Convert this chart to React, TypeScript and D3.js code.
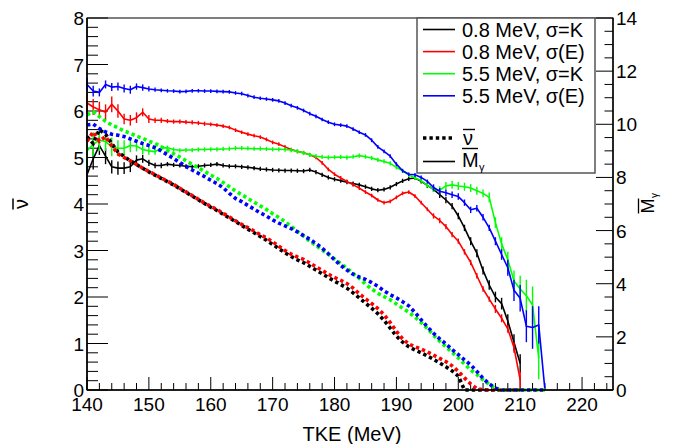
import React from "react";
import * as d3 from "d3";

// ---------- data ----------
const energies = d3.range(140, 215); // bin centres (MeV), 140..214

// Mean gamma multiplicity (right axis)
const blackM = [8.1, 8.7, 9.2, 8.8, 8.4, 8.35, 8.35, 8.4, 8.65, 8.7,
  8.55, 8.45, 8.45, 8.5, 8.47, 8.45, 8.42, 8.4, 8.42, 8.45,
  8.47, 8.5, 8.45, 8.42, 8.42, 8.4, 8.38, 8.35, 8.32, 8.3,
  8.28, 8.27, 8.26, 8.26, 8.25, 8.24, 8.28, 8.2, 8.1, 8.0,
  7.93, 7.88, 7.82, 7.77, 7.72, 7.65, 7.57, 7.52, 7.55, 7.63,
  7.75, 7.87, 7.95, 7.98, 7.85, 7.7, 7.55, 7.35, 7.15, 6.92,
  6.55, 6.1, 5.6, 5.15, 4.5, 3.95, 3.5, 3.25, 2.6, 1.8,
  1.0];
const redM = [10.8, 10.65, 10.55, 10.45, 10.75, 10.5, 10.2, 10.15, 10.25, 10.45,
  10.2, 10.15, 10.15, 10.12, 10.1, 10.1, 10.08, 10.07, 10.05, 10.02,
  10.0, 9.97, 9.93, 9.88, 9.78, 9.7, 9.63, 9.57, 9.52, 9.43,
  9.32, 9.25, 9.15, 9.05, 8.98, 8.93, 8.85, 8.75, 8.55, 8.3,
  8.12, 7.98, 7.85, 7.72, 7.6, 7.45, 7.32, 7.15, 7.05, 7.1,
  7.25, 7.4, 7.45, 7.3, 7.05, 6.8, 6.55, 6.38, 6.15, 5.85,
  5.6, 5.2, 4.8, 4.3, 3.8, 3.42, 3.05, 2.7, 2.3, 1.6,
  0.38];
const greenM = [9.0, 9.25, 9.4, 9.35, 9.15, 9.1, 9.1, 9.2, 9.18, 9.05,
  9.0, 8.97, 9.1, 9.12, 9.05, 9.02, 9.03, 9.03, 9.05, 9.05,
  9.06, 9.06, 9.07, 9.08, 9.1, 9.1, 9.09, 9.08, 9.08, 9.07,
  9.06, 9.06, 9.05, 9.03, 8.98, 8.92, 8.85, 8.8, 8.77, 8.75,
  8.76, 8.77, 8.75, 8.78, 8.82, 8.78, 8.73, 8.66, 8.6, 8.53,
  8.38, 8.25, 8.1, 7.98, 7.88, 7.7, 7.55, 7.52, 7.68, 7.72,
  7.68, 7.65, 7.6, 7.5, 7.4, 7.25, 6.3, 5.5, 4.9, 4.1,
  3.8, 3.55, 3.2, 1.2];
const blueM = [11.5, 11.25, 11.2, 11.5, 11.4, 11.42, 11.35, 11.3, 11.42, 11.38,
  11.33, 11.3, 11.28, 11.26, 11.25, 11.23, 11.24, 11.26, 11.26, 11.25,
  11.25, 11.24, 11.23, 11.22, 11.18, 11.15, 11.08, 11.02, 10.98, 10.95,
  10.92, 10.88, 10.8, 10.7, 10.62, 10.52, 10.4, 10.3, 10.18, 10.08,
  10.0, 9.97, 9.93, 9.82, 9.7, 9.6, 9.4, 9.15, 8.98, 8.8,
  8.5, 8.25, 8.12, 8.1, 8.0, 7.85, 7.62, 7.48, 7.42, 7.35,
  7.28, 7.05, 6.78, 6.84, 6.5, 6.1, 5.6, 5.1, 4.6, 3.75,
  3.45, 2.4, 2.35, 2.45, 0];

// Error bars on the multiplicity
const blackErr = [0.55, 0.4, 0.35, 0.3, 0.25, 0.25, 0.22, 0.2, 0.18, 0.15,
  0.12, 0.1, 0.1, 0.08, 0.08, 0.08, 0.08, 0.08, 0.08, 0.08,
  0.08, 0.08, 0.08, 0.08, 0.08, 0.08, 0.08, 0.08, 0.08, 0.08,
  0.08, 0.08, 0.08, 0.08, 0.08, 0.08, 0.08, 0.08, 0.08, 0.08,
  0.08, 0.08, 0.08, 0.08, 0.08, 0.08, 0.08, 0.08, 0.08, 0.08,
  0.08, 0.08, 0.08, 0.08, 0.08, 0.1, 0.1, 0.12, 0.12, 0.12,
  0.12, 0.12, 0.15, 0.15, 0.15, 0.18, 0.2, 0.22, 0.25, 0.3,
  0.35];
const redErr = [0.35, 0.3, 0.3, 0.3, 0.3, 0.25, 0.2, 0.2, 0.2, 0.15,
  0.15, 0.1, 0.1, 0.08, 0.08, 0.08, 0.08, 0.08, 0.08, 0.08,
  0.07, 0.07, 0.07, 0.07, 0.07, 0.07, 0.07, 0.07, 0.07, 0.07,
  0.07, 0.07, 0.07, 0.07, 0.07, 0.07, 0.07, 0.07, 0.07, 0.07,
  0.07, 0.07, 0.07, 0.07, 0.07, 0.07, 0.07, 0.07, 0.07, 0.07,
  0.07, 0.07, 0.07, 0.07, 0.07, 0.07, 0.1, 0.1, 0.1, 0.1,
  0.1, 0.1, 0.1, 0.1, 0.1, 0.1, 0.15, 0.15, 0.15, 0.2,
  0.3];
const greenErr = [0.6, 0.45, 0.4, 0.35, 0.35, 0.3, 0.3, 0.25, 0.2, 0.18,
  0.15, 0.12, 0.1, 0.08, 0.08, 0.08, 0.08, 0.08, 0.08, 0.08,
  0.08, 0.08, 0.08, 0.08, 0.08, 0.08, 0.08, 0.08, 0.08, 0.08,
  0.08, 0.08, 0.08, 0.08, 0.08, 0.08, 0.08, 0.08, 0.08, 0.08,
  0.08, 0.08, 0.08, 0.08, 0.08, 0.08, 0.08, 0.08, 0.08, 0.08,
  0.08, 0.08, 0.08, 0.08, 0.08, 0.08, 0.1, 0.15, 0.15, 0.15,
  0.15, 0.15, 0.15, 0.15, 0.15, 0.18, 0.2, 0.25, 0.3, 0.4,
  0.5, 0.6, 0.7, 0.8];
const blueErr = [0.25, 0.2, 0.15, 0.15, 0.15, 0.15, 0.15, 0.15, 0.12, 0.12,
  0.1, 0.08, 0.07, 0.07, 0.07, 0.07, 0.07, 0.07, 0.07, 0.07,
  0.07, 0.07, 0.07, 0.07, 0.07, 0.07, 0.07, 0.07, 0.07, 0.07,
  0.07, 0.07, 0.07, 0.07, 0.07, 0.07, 0.07, 0.07, 0.07, 0.07,
  0.07, 0.07, 0.07, 0.07, 0.07, 0.07, 0.07, 0.07, 0.07, 0.07,
  0.07, 0.07, 0.07, 0.07, 0.07, 0.07, 0.12, 0.12, 0.12, 0.12,
  0.12, 0.12, 0.12, 0.12, 0.12, 0.12, 0.15, 0.2, 0.3, 0.4,
  0.5, 0.6, 0.8, 0.7, 0];

// Mean neutron multiplicity (left axis)
const blackNu = [5.45, 5.3, 5.6, 5.5, 5.3, 5.12, 5.02, 4.93, 4.85, 4.77,
  4.69, 4.62, 4.55, 4.48, 4.41, 4.33, 4.25, 4.17, 4.09, 4.01,
  3.93, 3.86, 3.78, 3.7, 3.62, 3.54, 3.46, 3.38, 3.3, 3.22,
  3.13, 3.04, 2.95, 2.87, 2.8, 2.74, 2.66, 2.58, 2.5, 2.42,
  2.34, 2.27, 2.19, 2.09, 1.98, 1.87, 1.76, 1.64, 1.5, 1.33,
  1.16, 1.03, 0.93, 0.86, 0.8, 0.73, 0.66, 0.58, 0.5, 0.41,
  0.3, 0.0, 0, 0, 0, 0, 0, 0, 0, 0,
  0];
const redNu = [5.35, 5.55, 5.35, 5.45, 5.25, 5.08, 5.0, 4.93, 4.85, 4.77,
  4.7, 4.63, 4.56, 4.49, 4.42, 4.34, 4.26, 4.18, 4.1, 4.02,
  3.95, 3.88, 3.8, 3.72, 3.64, 3.56, 3.49, 3.42, 3.34, 3.27,
  3.19, 3.09, 3.0, 2.92, 2.86, 2.81, 2.73, 2.65, 2.57, 2.49,
  2.42, 2.36, 2.29, 2.19, 2.07, 1.96, 1.86, 1.75, 1.62, 1.45,
  1.26, 1.1, 0.99, 0.93, 0.88, 0.82, 0.75, 0.68, 0.61, 0.52,
  0.4, 0.26, 0.13, 0.03, 0, 0, 0, 0, 0, 0,
  0];
const greenNu = [5.92, 5.98, 5.88, 5.78, 5.7, 5.64, 5.57, 5.52, 5.46, 5.41,
  5.35, 5.3, 5.23, 5.15, 5.08, 5.01, 4.93, 4.85, 4.78, 4.7,
  4.62, 4.55, 4.46, 4.37, 4.28, 4.2, 4.12, 4.04, 3.96, 3.88,
  3.79, 3.71, 3.62, 3.52, 3.41, 3.31, 3.2, 3.11, 3.01, 2.92,
  2.82, 2.72, 2.62, 2.51, 2.4, 2.28, 2.17, 2.08, 2.01, 1.94,
  1.85, 1.76, 1.67, 1.57, 1.45, 1.32, 1.18, 1.05, 0.93, 0.81,
  0.69, 0.56, 0.43, 0.33, 0.22, 0.12, 0.03, 0, 0, 0,
  0, 0, 0, 0, 0];
const blueNu = [5.7, 5.72, 5.62, 5.55, 5.5, 5.48, 5.45, 5.4, 5.35, 5.3,
  5.26, 5.21, 5.14, 5.06, 4.98, 4.89, 4.81, 4.73, 4.66, 4.59,
  4.51, 4.44, 4.35, 4.23, 4.12, 4.05, 3.97, 3.89, 3.81, 3.74,
  3.66, 3.59, 3.53, 3.47, 3.4, 3.32, 3.24, 3.15, 3.05, 2.93,
  2.8, 2.68, 2.58, 2.49, 2.43, 2.38, 2.31, 2.23, 2.13, 2.05,
  1.98, 1.9, 1.81, 1.67, 1.51, 1.36, 1.22, 1.1, 0.99, 0.87,
  0.76, 0.65, 0.54, 0.4, 0.25, 0.13, 0.04, 0, 0, 0,
  0, 0, 0, 0, 0];

const seriesLabels = ["0.8 MeV, σ=K", "0.8 MeV, σ(E)", "5.5 MeV, σ=K", "5.5 MeV, σ(E)"];
const seriesColors = ["#000000", "#ff0000", "#00ff00", "#0000ff"];
const mSeries = [blackM, redM, greenM, blueM];
const errSeries = [blackErr, redErr, greenErr, blueErr];
const nuSeries = [blackNu, redNu, greenNu, blueNu];

const xTicks = [140, 150, 160, 170, 180, 190, 200, 210, 220];
const leftTicks = [0, 1, 2, 3, 4, 5, 6, 7, 8];
const rightTicks = [0, 2, 4, 6, 8, 10, 12, 14];

// ---------- layout ----------
const W = 673, H = 444;
const L = 87, R = 613, T = 18, B = 390;
const FONT = "'Liberation Sans', Arial, Helvetica, sans-serif";

export default function App() {
  const x = d3.scaleLinear().domain([140, 225]).range([L, R]);
  const yL = d3.scaleLinear().domain([0, 8]).range([B, T]);
  const yR = d3.scaleLinear().domain([0, 14]).range([B, T]);

  const lineR = d3.line<[number, number]>().x(d => x(d[0])).y(d => yR(d[1]));
  const lineL = d3.line<[number, number]>().x(d => x(d[0])).y(d => yL(d[1]));

  const xMinor = d3.range(140, 225.01, 2);
  const lMinor = d3.range(0, 8.001, 0.2);
  const rMinor = d3.range(0, 14.001, 0.5);

  const legendRows = [29.5, 51.6, 73.7, 95.8];
  const lgX0 = 423, lgX1 = 455, lgTx = 462;

  return (
    <svg width={W} height={H} style={{ position: "absolute", left: 0, top: 0, background: "#fff" }}
      fontFamily={FONT}>
      <rect x={0} y={0} width={W} height={H} fill="#fff" />

      {/* ticks */}
      {xMinor.map((v, i) => {
        const major = Math.abs(v % 10) < 1e-6;
        return <line key={"xt" + i} x1={x(v)} x2={x(v)} y1={B} y2={B - (major ? 13 : 7)} stroke="#000" strokeWidth={1} />;
      })}
      {lMinor.map((v, i) => {
        const major = Math.abs(v - Math.round(v)) < 1e-6;
        return <line key={"lt" + i} x1={L} x2={L + (major ? 21 : 11)} y1={yL(v)} y2={yL(v)} stroke="#000" strokeWidth={1} />;
      })}
      {rMinor.map((v, i) => {
        const major = Math.abs(v / 2 - Math.round(v / 2)) < 1e-6;
        return <line key={"rt" + i} x1={R} x2={R - (major ? 17 : 8.5)} y1={yR(v)} y2={yR(v)} stroke="#000" strokeWidth={1} />;
      })}

      {/* multiplicity curves with error bars */}
      {mSeries.map((vals, s) => {
        const pts: [number, number][] = vals.map((v, i) => [energies[i], v]);
        return (
          <g key={"m" + s}>
            <path d={lineR(pts) || ""} fill="none" stroke={seriesColors[s]} strokeWidth={1.6} strokeLinejoin="round" />
            {vals.map((v, i) => errSeries[s][i] > 0 ? (
              <line key={i} x1={x(energies[i])} x2={x(energies[i])}
                y1={yR(v - errSeries[s][i])} y2={yR(v + errSeries[s][i])}
                stroke={seriesColors[s]} strokeWidth={1.4} />
            ) : null)}
          </g>
        );
      })}

      {/* neutron multiplicity dotted curves */}
      {nuSeries.map((vals, s) => {
        const pts: [number, number][] = vals.map((v, i) => [energies[i], v]);
        return (
          <path key={"n" + s} d={lineL(pts) || ""} fill="none" stroke={seriesColors[s]}
            strokeWidth={3.6} strokeDasharray="3.4 3" />
        );
      })}

      {/* frame */}
      <rect x={L} y={T} width={R - L} height={B - T} fill="none" stroke="#000" strokeWidth={1} />
      <line x1={L} x2={R} y1={B} y2={B} stroke="#000" strokeWidth={1.6} />
      <line x1={L} x2={L} y1={T} y2={B} stroke="#000" strokeWidth={1.6} />
      <line x1={R} x2={R} y1={T} y2={B} stroke="#000" strokeWidth={1.4} />

      {/* tick labels */}
      {xTicks.map(v => (
        <text key={"xl" + v} x={x(v)} y={411} textAnchor="middle" fontSize={19}>{v}</text>
      ))}
      {leftTicks.map(v => (
        <text key={"ll" + v} x={L - 3} y={yL(v) + 7} textAnchor="end" fontSize={19}>{v}</text>
      ))}
      {rightTicks.map(v => (
        <text key={"rl" + v} x={R + 3} y={yR(v) + 7} textAnchor="start" fontSize={19}>{v}</text>
      ))}

      {/* axis titles */}
      <text x={(L + R) / 2 + 2} y={441} textAnchor="middle" fontSize={20}>TKE (MeV)</text>
      <g transform="translate(28,204) rotate(-90)">
        <text x={0} y={0} textAnchor="middle" fontSize={20}>ν</text>
        <line x1={-5.5} x2={5.5} y1={-15} y2={-15} stroke="#000" strokeWidth={1.5} />
      </g>
      <g transform="translate(654,206) rotate(-90)">
        <text x={0} y={0} textAnchor="middle" fontSize={18}>M</text>
        <text x={8} y={4} textAnchor="start" fontSize={10}>γ</text>
        <line x1={-7.5} x2={7.5} y1={-15.5} y2={-15.5} stroke="#000" strokeWidth={1.3} />
      </g>

      {/* legend */}
      <rect x={417} y={T} width={178} height={155} fill="#fff" stroke="#555" strokeWidth={1.5} />
      {seriesLabels.map((lab, i) => (
        <g key={"lg" + i}>
          <line x1={lgX0} x2={lgX1} y1={legendRows[i]} y2={legendRows[i]} stroke={seriesColors[i]} strokeWidth={1.6} />
          <text x={lgTx} y={legendRows[i] + 7} fontSize={20}>{lab}</text>
        </g>
      ))}
      <line x1={lgX0} x2={lgX1} y1={138} y2={138} stroke="#000" strokeWidth={3.6} strokeDasharray="3.4 3" />
      <text x={lgTx + 1} y={145} fontSize={20}>ν</text>
      <line x1={lgX0 + 40} x2={lgX0 + 52} y1={129.5} y2={129.5} stroke="#000" strokeWidth={1.4} />
      <line x1={lgX0} x2={lgX1} y1={161.5} y2={161.5} stroke="#000" strokeWidth={1.6} />
      <text x={lgTx} y={167} fontSize={20}>M</text>
      <text x={lgTx + 17} y={171} fontSize={11}>γ</text>
      <line x1={lgTx} x2={lgTx + 16} y1={148.5} y2={148.5} stroke="#000" strokeWidth={1.4} />
    </svg>
  );
}
